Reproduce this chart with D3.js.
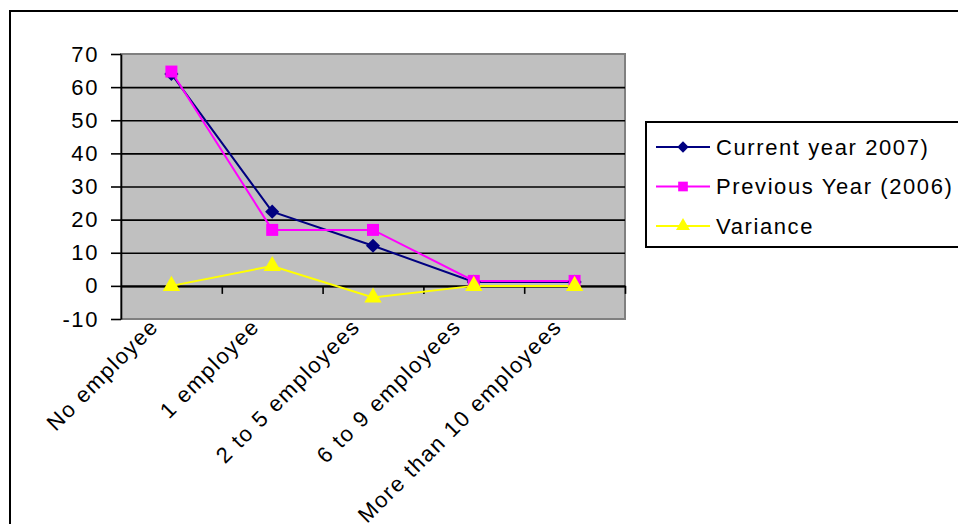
<!DOCTYPE html>
<html>
<head>
<meta charset="utf-8">
<script src="https://cdn.jsdelivr.net/npm/d3@7"></script>
<style>
  html, body { margin: 0; padding: 0; background: #ffffff; overflow: hidden; }
  svg { display: block; }
  text { font-family: "Liberation Sans", Arial, sans-serif; fill: #000; }
</style>
</head>
<body>
<svg id="chart" width="958" height="524"></svg>
<script>
const categories = ["No employee", "1 employee", "2 to 5 employees", "6 to 9 employees", "More than 10 employees"];
const currentYear = [64, 22.4, 12.1, 1.2, 1.2];
const previousYear = [64.7, 16.9, 16.9, 1.5, 1.5];
const variance = [0, 6, -3.5, 0, 0];
const yTicks = [-10, 0, 10, 20, 30, 40, 50, 60, 70];
const seriesNames = ["Current year 2007)", "Previous Year (2006)", "Variance"];

const series = [
  { name: seriesNames[0], values: currentYear, color: "#000080", symbol: d3.symbolSquare, size: 100, rot: 45 },
  { name: seriesNames[1], values: previousYear, color: "#FF00FF", symbol: d3.symbolSquare, size: 144, rot: 0 },
  { name: seriesNames[2], values: variance, color: "#FFFF00", symbol: d3.symbolTriangle, size: 130, rot: 0 }
];

const svg = d3.select("#chart");
const W = 958, H = 524;
const plot = { left: 121, right: 625, top: 54, bottom: 319 };
const FONT = 22, SPACING = "1.6px";

// outer chart border (extends past the right and bottom edges)
svg.append("rect")
  .attr("x", 10).attr("y", 11)
  .attr("width", W + 20).attr("height", H + 20)
  .attr("fill", "#fff").attr("stroke", "#000").attr("stroke-width", 2);

const x = d3.scalePoint().domain(categories).range([plot.left, plot.right]).padding(0.5);
const xEdge = d3.scaleLinear().domain([0, categories.length]).range([plot.left, plot.right]);
const y = d3.scaleLinear().domain([-10, 70]).range([plot.bottom, plot.top]);

// plot area
svg.append("rect")
  .attr("x", plot.left).attr("y", plot.top)
  .attr("width", plot.right - plot.left).attr("height", plot.bottom - plot.top)
  .attr("fill", "#C0C0C0").attr("stroke", "#808080").attr("stroke-width", 2);

// gridlines
const grid = svg.append("g").attr("transform", `translate(${plot.left},0)`)
  .call(d3.axisLeft(y).tickValues(yTicks.filter(v => v > -10 && v < 70))
    .tickSize(-(plot.right - plot.left)).tickFormat(""));
grid.select(".domain").remove();
grid.selectAll(".tick line").attr("stroke", "#000").attr("stroke-width", 1.6);

// y axis
const yAxis = svg.append("g").attr("transform", `translate(${plot.left},0)`)
  .call(d3.axisLeft(y).tickValues(yTicks).tickSize(10).tickSizeOuter(0).tickPadding(12)
    .tickFormat(d => String(d)));
yAxis.select(".domain").attr("stroke", "#000").attr("stroke-width", 1.6);
yAxis.selectAll(".tick line").attr("stroke", "#000").attr("stroke-width", 1.6);
yAxis.selectAll(".tick text")
  .style("font-size", FONT + "px").style("letter-spacing", SPACING)
  .attr("fill", "#000");

// x axis at zero with boundary ticks
const xAxis = svg.append("g").attr("transform", `translate(0,${y(0)})`)
  .call(d3.axisBottom(xEdge).tickValues(d3.range(1, categories.length + 1)).tickSize(8).tickSizeOuter(0).tickFormat(""));
xAxis.select(".domain").attr("stroke", "#000").attr("stroke-width", 2);
xAxis.selectAll(".tick line").attr("stroke", "#000").attr("stroke-width", 1.6);

// category labels, rotated, below the plot area
const xLab = svg.append("g").attr("transform", `translate(0,${plot.bottom})`)
  .call(d3.axisBottom(x).tickSize(0).tickPadding(0));
xLab.select(".domain").remove();
xLab.selectAll(".tick text")
  .style("font-size", FONT + "px").style("letter-spacing", SPACING)
  .attr("text-anchor", "end")
  .attr("dy", null).attr("y", null)
  .attr("transform", "translate(-12,9) rotate(-45)");

// lines and markers
const line = d3.line().x((d, i) => x(categories[i])).y(d => y(d));
series.forEach(s => {
  svg.append("path").datum(s.values)
    .attr("d", line).attr("fill", "none")
    .attr("stroke", s.color).attr("stroke-width", 2);
});
series.forEach(s => {
  svg.append("g").selectAll("path").data(s.values).join("path")
    .attr("d", d3.symbol().type(s.symbol).size(s.size))
    .attr("transform", (d, i) => `translate(${x(categories[i])},${y(d)}) rotate(${s.rot})`)
    .attr("fill", s.color).attr("stroke", "none");
});

// legend
const legend = svg.append("g");
legend.append("rect")
  .attr("x", 646).attr("y", 122).attr("width", 400).attr("height", 125)
  .attr("fill", "#fff").attr("stroke", "#000").attr("stroke-width", 2);
const legendY = d3.scalePoint().domain(seriesNames).range([147, 226]);
series.forEach(s => {
  const g = legend.append("g").attr("transform", `translate(0,${legendY(s.name)})`);
  g.append("line").attr("x1", 656).attr("x2", 710).attr("y1", 0).attr("y2", 0)
    .attr("stroke", s.color).attr("stroke-width", 2);
  g.append("path").attr("d", d3.symbol().type(s.symbol).size(s.size * 0.65))
    .attr("transform", `translate(683,0) rotate(${s.rot})`)
    .attr("fill", s.color);
  g.append("text").attr("x", 716).attr("y", 0).attr("dy", "0.36em")
    .style("font-size", FONT + "px").style("letter-spacing", SPACING)
    .text(s.name);
});
</script>
</body>
</html>
